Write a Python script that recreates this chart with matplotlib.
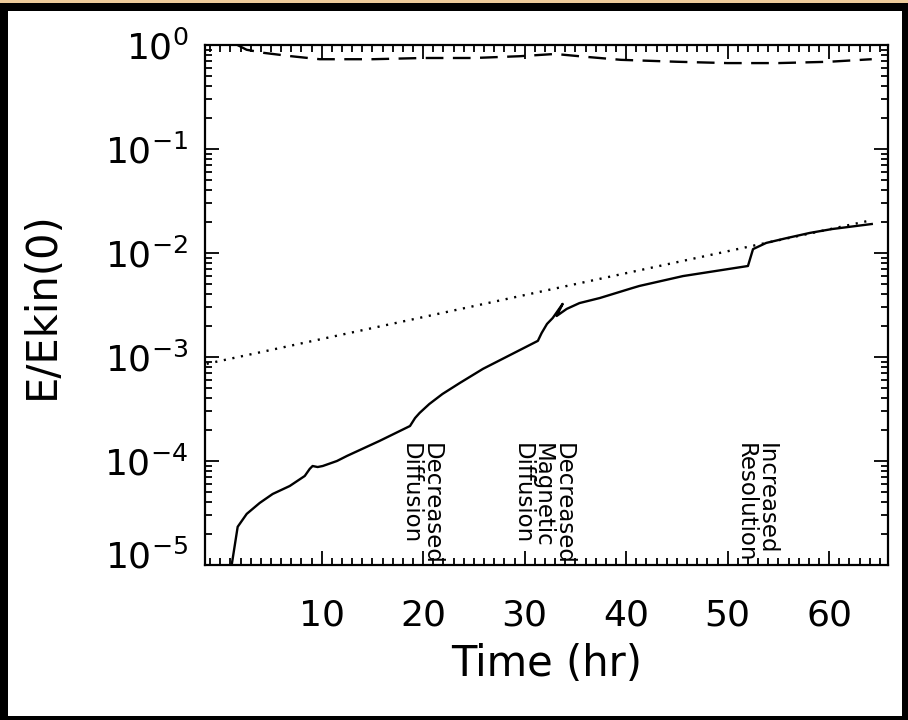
import matplotlib
matplotlib.use("Agg")
import matplotlib.pyplot as plt
from matplotlib.patches import Rectangle
from matplotlib.ticker import LogLocator, MultipleLocator, FixedLocator, NullFormatter
import matplotlib.transforms as mtransforms

# ---- data ----
# kinetic-energy ratio (dashed)
t_kin = [1.7, 2.6, 4.3, 7.0, 9.8, 15.0, 20.0, 25.0, 29.5, 33.0, 36.0, 39.5, 45.0, 50.0, 55.0, 60.0, 64.2]
e_kin = [1.00, 0.90, 0.84, 0.78, 0.73, 0.73, 0.75, 0.75, 0.78, 0.82, 0.77, 0.72, 0.69, 0.67, 0.67, 0.69, 0.73]

# magnetic-energy ratio (solid)
t_mag = [1.13, 1.72, 2.61, 3.89, 5.17, 6.85, 8.33, 8.82, 9.1, 9.6, 10.1, 11.5, 12.5, 15.7,
         18.7, 19.2, 19.65, 20.6, 21.9, 23.6, 25.9, 31.3, 31.67, 32.2, 32.76, 33.74, 33.15,
         34.14, 35.4, 37.4, 40.6, 41.3, 45.6, 52.0, 52.5, 53.8, 55.8, 58.1, 60.3, 64.2]
e_mag = [1.0e-5, 2.33e-5, 3.1e-5, 3.95e-5, 4.82e-5, 5.75e-5, 7.18e-5, 8.4e-5, 8.95e-5, 8.75e-5, 8.95e-5, 1.0e-4, 1.12e-4, 1.56e-4,
         2.17e-4, 2.59e-4, 2.9e-4, 3.53e-4, 4.41e-4, 5.62e-4, 7.7e-4, 1.43e-3, 1.70e-3, 2.08e-3, 2.37e-3, 3.24e-3, 2.48e-3,
         2.9e-3, 3.3e-3, 3.69e-3, 4.6e-3, 4.82e-3, 6.0e-3, 7.5e-3, 1.09e-2, 1.25e-2, 1.39e-2, 1.56e-2, 1.70e-2, 1.90e-2]

# exponential growth fit (dotted)
t_fit = [-1.33, 10.0, 20.0, 30.0, 40.0, 50.0, 64.2]
e_fit = [8.6e-4, 1.49e-3, 2.42e-3, 3.94e-3, 6.4e-3, 1.04e-2, 2.07e-2]

x_ticks = [10, 20, 30, 40, 50, 60]
y_ticks = [1e-5, 1e-4, 1e-3, 1e-2, 1e-1, 1e0]
y_ticklabels = [r"$10^{-5}$", r"$10^{-4}$", r"$10^{-3}$", r"$10^{-2}$", r"$10^{-1}$", r"$10^{0}$"]

annotations = [
    (19.75, "Decreased\nDiffusion"),
    (31.77, "Decreased\nMagnetic\nDiffusion"),
    (52.76, "Increased\nResolution"),
]

# ---- figure ----
W, H = 908, 720
plt.rcParams["mathtext.fontset"] = "dejavusans"
fig = plt.figure(figsize=(W / 100, H / 100), dpi=100, facecolor="black")

# frame: tan strip at top, black border, white interior
fig.patches.append(Rectangle((0, 1 - 3 / H), 1, 3 / H, transform=fig.transFigure,
                             facecolor="#EDCB9B", edgecolor="none", zorder=-10))
fig.patches.append(Rectangle((8 / W, 4 / H), (902 - 8) / W, (H - 11 - 4) / H,
                             transform=fig.transFigure, facecolor="white", edgecolor="none", zorder=-10))

ax = fig.add_axes([205 / W, 1 - 565 / H, 683 / W, 520 / H])
ax.set_facecolor("none")

ax.plot(t_kin, e_kin, color="black", lw=1.7, linestyle=(0, (7.5, 4)))
ax.plot(t_mag, e_mag, color="black", lw=1.7, solid_joinstyle="round")
ax.plot(t_fit, e_fit, color="black", lw=1.7, linestyle=(0, (0.9, 2.8)))

ax.set_yscale("log")
ax.set_xlim(-1.5, 65.8)
ax.set_ylim(1e-5, 1.0)

ax.xaxis.set_major_locator(FixedLocator(x_ticks))
ax.xaxis.set_minor_locator(MultipleLocator(1))
ax.set_xticklabels([str(v) for v in x_ticks])
ax.yaxis.set_major_locator(FixedLocator(y_ticks))
ax.set_yticklabels(y_ticklabels)
ax.yaxis.set_minor_locator(LogLocator(base=10, subs=range(2, 10), numticks=20))
ax.yaxis.set_minor_formatter(NullFormatter())

ax.tick_params(which="both", direction="in", top=True, right=True, width=1.3, color="black")
ax.tick_params(which="major", length=10, labelsize=26)
ax.tick_params(axis="x", which="major", pad=24)
ax.tick_params(axis="y", which="major", pad=12)
ax.tick_params(which="minor", length=5)
for s in ax.spines.values():
    s.set_linewidth(1.6)

# the bottom y label sits a little above its tick in the reference
bottom_label = ax.get_yticklabels()[0]
bottom_label.set_transform(bottom_label.get_transform() +
                           mtransforms.ScaledTranslation(0, 11 / 100, fig.dpi_scale_trans))

ax.set_xlabel("Time (hr)", fontsize=30, labelpad=8)
ax.set_ylabel("E/Ekin(0)", fontsize=30, labelpad=30)

trans = mtransforms.blended_transform_factory(ax.transData, ax.transAxes)
for xc, txt in annotations:
    ax.text(xc, 0.2346, txt, transform=trans, rotation=-90, ha="center", va="top",
            fontsize=16.5, linespacing=0.85, multialignment="left", color="black")

fig.savefig("out.png", dpi=100, facecolor=fig.get_facecolor())
